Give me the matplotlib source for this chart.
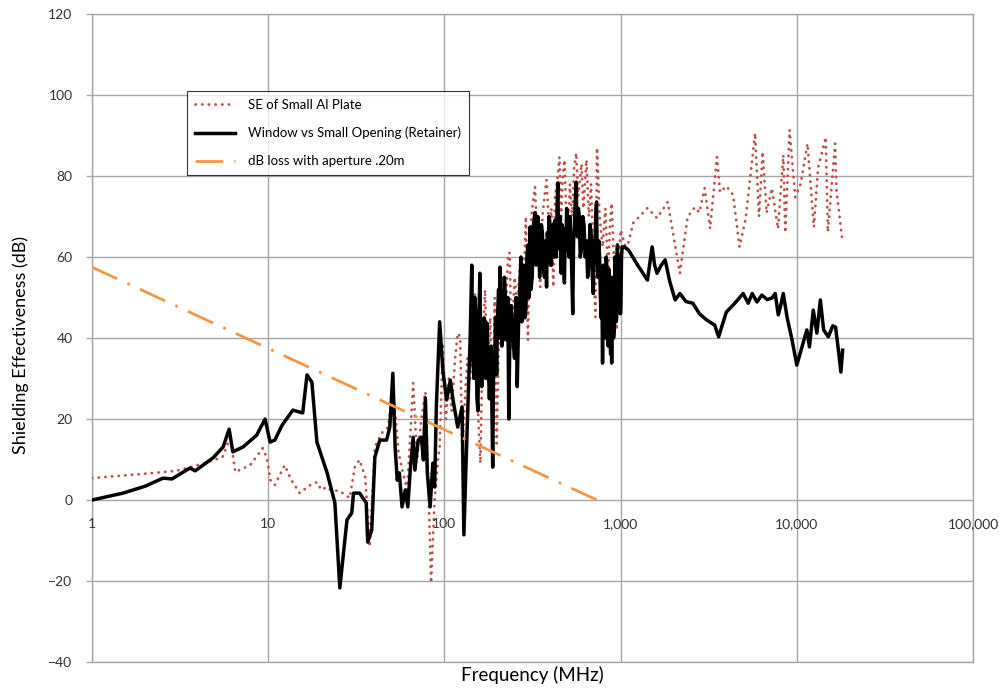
import matplotlib
matplotlib.use("Agg")
import matplotlib.pyplot as plt
import matplotlib.transforms as mtransforms
from matplotlib.ticker import FixedLocator, NullLocator

plt.rcParams['font.family'] = ['Lato', 'DejaVu Sans']

# ---- data ----
black_f = [1, 1.5, 2.0, 2.53, 2.84, 3.6, 3.85, 4.86, 5.55, 6.0, 6.3, 7.2, 8.6, 9.6, 10.25, 10.9, 12, 13.8,
           15.7, 16.6, 17.7, 18.9, 21.6, 23.9, 25.5, 28, 29.8, 30.5, 33, 36, 36.7, 38.7, 40.3, 43, 47, 49,
           51, 52.5, 54, 55.5, 57.5, 60, 62, 64, 66.5, 68, 71, 74, 76, 78, 80, 83, 86, 88, 90, 94, 98, 103,
           108, 112, 119, 126, 129, 134,
           140, 143, 145, 147, 149, 151, 153, 155, 157, 159, 161, 163, 165, 166, 168, 170, 172, 174, 177,
           180, 184, 188, 190, 193, 195, 198, 200, 203, 205, 207, 210, 212, 214, 216, 219, 222, 224, 226,
           229, 232, 236, 240, 245, 250, 255, 259, 264, 268, 272, 275, 278,
           282, 286, 290, 294, 298, 302, 306, 310, 315, 320, 327, 331, 335, 339, 343, 347, 350, 355, 360,
           365, 370, 375, 380, 384, 388, 392, 396, 400, 405, 410, 415, 419, 423, 428, 432, 436, 440, 445,
           450, 455, 460, 465, 470, 475, 480, 485, 490, 494, 498, 504, 510, 515, 520, 527, 535, 541, 547,
           553, 560, 565, 570, 576, 583, 590, 600, 610, 620, 630, 640, 650, 660, 670, 680, 690, 700, 708,
           715, 722, 730, 738, 745, 752, 760, 768, 775, 782, 790, 798, 805, 812, 820, 828, 835, 842, 850,
           858, 865, 872, 878, 884, 890, 898, 905, 912, 920, 928, 935, 942, 950, 955, 960, 968, 975, 982,
           990, 998, 1005, 1012, 1020,
           1050, 1110, 1250, 1420, 1510, 1560, 1610, 1700, 1790, 1900, 2040, 2170, 2350, 2570, 2800, 3070,
           3420, 3600, 3980, 4450, 4960, 5300, 5580, 5940, 6330, 6800, 7240, 7540, 7850, 8100, 8380, 8800,
           9400, 10000, 10700, 11400, 11800, 12400, 13000, 13600, 14200, 15100, 16000, 16600, 17300, 17800,
           18200]
black_db = [0, 1.7, 3.4, 5.4, 5.2, 7.9, 7.2, 10.4, 13.1, 17.5, 11.9, 13.1, 16, 20, 14.3, 14.8, 18.5, 22.2,
            21.5, 30.9, 29.1, 14.3, 6.7, -0.7, -21.7, -4.9, -3.2, 1.7, 1.7, -0.7, -10.4, -7.4, 10.6, 14.8,
            14.8, 18, 31.3, 13.1, 4.9, 6.7, -1.7, 2.5, -1.7, 7.4, 15.5, 7.4, 14.8, 15.5, 9.9, 25.2, 6.7,
            -1.7, 9.1, 3.2, 23, 44, 32, 24.7, 29.6, 24.7, 18, 23, -8.6, 14.8,
            40, 58, 35, 30, 50, 45, 25, 22, 45, 56, 35, 28, 40, 31, 45, 44, 30, 43.7, 35,
            25, 38, 8.1, 30, 35, 45, 31, 45, 52, 40, 57.5, 45, 38, 50, 39.5, 55, 50, 42, 39.5,
            50, 20, 45, 48, 40, 35, 50, 28, 45, 52.6, 60, 44, 55,
            58, 45, 47, 60, 63, 50, 67.4, 52, 55, 68, 71, 58, 60, 70, 65, 55, 58.5, 68, 66,
            57, 55, 64, 52.6, 66, 62, 70, 65, 58, 58, 68, 66, 60, 69, 62, 60, 72, 78.3, 64,
            62, 70, 56, 68, 66, 58, 53.6, 67, 63, 72, 70.4, 62, 60, 70, 66, 58, 46, 64, 68,
            74, 78.5, 66, 65, 72, 70, 60, 62, 70, 68, 60, 64, 55, 58, 68, 66, 56, 51, 64,
            62, 70, 73.6, 58, 55, 64, 60, 50, 45, 55, 33.8, 58, 55, 42, 40, 60, 58, 45, 38,
            57, 55, 40, 36, 50, 33.8, 55, 52, 40, 42, 60, 58, 44, 45, 60, 63, 48, 50, 60,
            56, 46, 48.6, 60, 62.5,
            62.5, 61.7, 58, 54.3, 62.5, 58, 56, 58, 59.3, 54, 49.4, 51, 49, 48.6, 46, 44.5,
            43.2, 40.3, 46.4, 48.6, 51, 48.6, 51, 48.9, 50.6, 49.5, 49.9, 51, 45.7, 48, 51, 45.2,
            39.5, 33.3, 37.8, 42, 37.8, 46.9, 41.2, 49.4, 42, 40.3, 43, 42.7, 36.3, 31.6,
            37]

red_f = [1, 2, 3, 3.6, 4.5, 5.5, 6.1, 6.5, 7.9, 9.3, 9.8, 10.3, 10.9, 12.4, 13.5, 15.1, 17, 18.9, 20, 21.6,
         22.5, 25.5, 29, 31, 33, 35.5, 37.7, 40.3, 44, 48, 51, 55, 58, 61.5, 66.5, 70, 74, 78, 81, 84, 88,
         92, 94, 98, 102, 106, 110, 115, 119, 123, 126, 130, 135, 140, 145, 149, 154, 160, 165, 170, 176,
         182, 188, 193, 198, 205, 212, 220, 230, 235, 240, 250, 260, 270, 280, 290, 298, 305, 315, 327,
         335, 350, 360, 370, 380, 395, 405, 415, 425, 440, 450, 460, 470, 480, 490, 500, 515, 530, 545,
         560, 575, 600, 615, 640, 660, 680, 700, 720, 735, 760, 790, 820, 850, 870, 890, 915, 950, 975,
         1000, 1080, 1180, 1420, 1610, 1850, 2170, 2400, 2640, 2800, 3000, 3220, 3520, 3670, 3990, 4350,
         4730, 5130, 5800, 6100, 6400, 6740, 7220, 7820, 8390, 8600, 9100, 9800, 10500, 11500, 12500,
         13200, 14600, 15000, 16500, 16800, 18200]
red_db = [5.4, 6.5, 7.2, 8.1, 9.3, 10.6, 15.5, 6.9, 8.6, 12.8, 10.6, 4.9, 3.7, 8.6, 5, 1.7, 3.5, 4.4, 2.5,
          3.2, 2.5, 2.2, 0.5, 8.1, 9.9, 5.7, -11.6, 13.1, 16.5, 18, 28, 11.6, 7, 2.5, 28.9, 10, 20, 26.7,
          5, -20.5, 0, 10, 13.1, 38.8, 20, 30, 22, 35, 41.2, 40.3, 11.6, 23, 35, 30, 45, 51, 25, 9.1, 40,
          51.9, 30, 45, 20, 50, 14, 45, 55, 40, 61, 61, 37, 55, 48, 60, 50, 70, 39.5, 65, 72, 77.3, 65,
          52.6, 70, 75, 79, 65, 72, 52.6, 75, 80, 84.7, 70, 80, 84, 72, 61, 78, 70, 82, 85.7, 75, 83, 72,
          84, 70, 78, 60, 45.2, 87, 70, 62.5, 72, 55, 68, 73.3, 60, 42, 58, 66.7, 61.7, 68.4, 72.1, 69.6,
          73.6, 56, 69.9, 72.3, 71, 77, 67, 84.7, 76, 77.5, 75.3, 62.5, 69.6, 90.6, 70, 86, 70.9, 77, 67,
          85.2, 66, 91.4, 74.8, 78, 88, 67.4, 82, 89.6, 66.2, 88, 76.5, 63.5]

orange_f = [1, 735]
orange_db = [57.5, 0]

x_ticks = [1, 10, 100, 1000, 10000, 100000]
x_labels = ["1", "10", "100", "1,000", "10,000", "100,000"]
y_ticks = [-40, -20, 0, 20, 40, 60, 80, 100, 120]

labels = ["SE of Small Al Plate", "Window vs Small Opening (Retainer)", "dB loss with aperture .20m"]

# ---- figure ----
fig = plt.figure(figsize=(10, 6.9), dpi=100)
ax = fig.add_axes([0.092, 0.0406, 0.881, 0.939])

red_line, = ax.plot(red_f, red_db, color="#C0504D", lw=2.0, linestyle=(0, (0.1, 2.3)),
                    dash_capstyle="round", label=labels[0], zorder=3)
black_line, = ax.plot(black_f, black_db, color="black", lw=2.5, label=labels[1], zorder=4,
                      solid_joinstyle="round")
orange_line, = ax.plot(orange_f, orange_db, color="#F79646", lw=2.0,
                       linestyle=(0, (10, 4, 1, 4)), label=labels[2], zorder=5)

ax.set_xscale("log")
ax.set_xlim(1, 100000)
ax.set_ylim(-40, 120)
ax.xaxis.set_major_locator(FixedLocator(x_ticks))
ax.xaxis.set_minor_locator(NullLocator())
ax.set_xticklabels([])
ax.set_yticks(y_ticks)

ax.grid(True, which="major", color="#A6A6A6", lw=1.0)
ax.set_axisbelow(True)
for s in ax.spines.values():
    s.set_color("#A6A6A6")
    s.set_linewidth(1.0)
ax.tick_params(axis="x", length=0)
ax.tick_params(axis="y", length=4, width=1.0, color="#A6A6A6", labelsize=10,
               labelcolor="#333333", pad=10)

# x tick labels sit just below the 0 dB line (axis crossing at 0)
off = mtransforms.offset_copy(ax.transData, fig=fig, x=0, y=-24, units="dots")
for xv, lab in zip(x_ticks, x_labels):
    ax.text(xv, 0, lab, transform=off, ha="center", va="center", fontsize=10,
            color="#333333", clip_on=False)

fig.text(0.532, 0.022, "Frequency (MHz)", ha="center", va="center", fontsize=13.5)
fig.text(0.021, 0.50, "Shielding Effectiveness (dB)", ha="center", va="center",
         rotation=90, fontsize=13)

leg = ax.legend(handles=[red_line, black_line, orange_line], loc="upper left",
                bbox_to_anchor=(0.187, 0.868), bbox_transform=fig.transFigure,
                borderaxespad=0, fontsize=9.5, frameon=True, fancybox=False, handlelength=3.0,
                labelspacing=1.2, borderpad=0.6, handletextpad=1.0)
leg.get_frame().set_edgecolor("#000000")
leg.get_frame().set_linewidth(0.8)

fig.savefig("out.png", dpi=100)
